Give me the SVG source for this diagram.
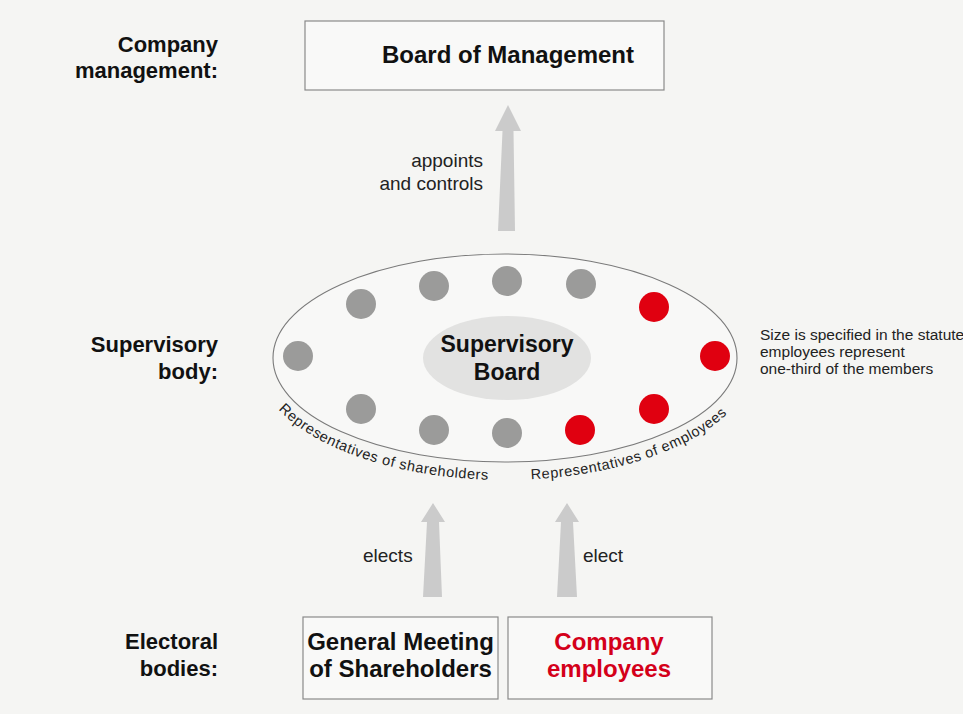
<svg xmlns="http://www.w3.org/2000/svg" width="963" height="714" viewBox="0 0 963 714">
  <style>
    text { font-family: "Liberation Sans", Arial, sans-serif; fill: #111; }
    .h { font-weight: bold; font-size: 24px; }
    .lbl { font-weight: bold; font-size: 22px; text-anchor: end; }
    .box { fill: #f9f9f8; stroke: #8a8a8a; stroke-width: 1.2; }
    .arrow { fill: #cbcbcb; }
    .verb { font-size: 19px; fill: #222; }
    .small { font-size: 15.5px; fill: #222; }
    .curve { font-size: 14.5px; letter-spacing: 0.55px; fill: #222; }
    .g { fill: #9b9b9a; }
    .r { fill: #e00010; }
  </style>
  <defs>
    <path id="pathShare" d="M 278.4 409.6 A 250 122 0 0 0 487.6 479.7"/>
    <path id="pathEmp" d="M 531.1 479.3 A 250 122 0 0 0 729.7 411.5"/>
  </defs>

  <rect x="0" y="0" width="963" height="714" fill="#f5f5f3"/>

  <g id="row-labels">
    <text class="lbl" x="218" y="52">Company</text>
    <text class="lbl" x="218" y="78">management:</text>
    <text class="lbl" x="218" y="352">Supervisory</text>
    <text class="lbl" x="218" y="379">body:</text>
    <text class="lbl" x="218" y="649">Electoral</text>
    <text class="lbl" x="218" y="676">bodies:</text>
  </g>

  <g id="board-of-management">
    <rect class="box" x="305" y="21" width="359" height="69"/>
    <text class="h" x="508" y="63" text-anchor="middle">Board of Management</text>
  </g>

  <g id="supervisory-board">
    <ellipse cx="505" cy="358" rx="232" ry="104" fill="#f8f8f7" stroke="#7a7a7a" stroke-width="1.1"/>
    <ellipse cx="507" cy="358" rx="84" ry="42" fill="#e2e2e1"/>
    <text class="h" x="507" y="352" text-anchor="middle" style="font-size:23px">Supervisory</text>
    <text class="h" x="507" y="380" text-anchor="middle" style="font-size:23px">Board</text>
    <g id="members">
      <circle class="g" cx="361" cy="304" r="15"/>
      <circle class="g" cx="434" cy="286" r="15"/>
      <circle class="g" cx="507" cy="281" r="15"/>
      <circle class="g" cx="581" cy="284" r="15"/>
      <circle class="g" cx="298" cy="356" r="15"/>
      <circle class="g" cx="361" cy="409" r="15"/>
      <circle class="g" cx="434" cy="430" r="15"/>
      <circle class="g" cx="507" cy="433" r="15"/>
      <circle class="r" cx="654" cy="307" r="15"/>
      <circle class="r" cx="715" cy="356" r="15"/>
      <circle class="r" cx="654" cy="409" r="15"/>
      <circle class="r" cx="580" cy="430" r="15"/>
    </g>
    <text class="curve"><textPath href="#pathShare">Representatives of shareholders</textPath></text>
    <text class="curve"><textPath href="#pathEmp">Representatives of employees</textPath></text>
  </g>

  <g id="size-note">
    <text class="small" x="760" y="340">Size is specified in the statute</text>
    <text class="small" x="760" y="357">employees represent</text>
    <text class="small" x="760" y="374">one-third of the members</text>
  </g>

  <g id="general-meeting">
    <rect class="box" x="303" y="617" width="195" height="82"/>
    <text class="h" x="400.5" y="650" text-anchor="middle">General Meeting</text>
    <text class="h" x="400.5" y="677" text-anchor="middle">of Shareholders</text>
  </g>

  <g id="company-employees">
    <rect class="box" x="508" y="617" width="204" height="82"/>
    <text class="h" x="609" y="650" text-anchor="middle" style="fill:#d4001a">Company</text>
    <text class="h" x="609" y="677" text-anchor="middle" style="fill:#d4001a">employees</text>
  </g>

  <g id="connectors">
    <polygon class="arrow" points="508,105 521,131 513.5,131 515,231 498,231 502.5,131 495,131"/>
    <text class="verb" x="483" y="167" text-anchor="end">appoints</text>
    <text class="verb" x="483" y="190" text-anchor="end">and controls</text>

    <polygon class="arrow" points="433,503 445,522 439,522 442,597 423,597 427,522 421,522"/>
    <text class="verb" x="363" y="562">elects</text>

    <polygon class="arrow" points="567,503 579,522 573,522 577,597 557,597 561,522 555,522"/>
    <text class="verb" x="583" y="562">elect</text>
  </g>
</svg>
